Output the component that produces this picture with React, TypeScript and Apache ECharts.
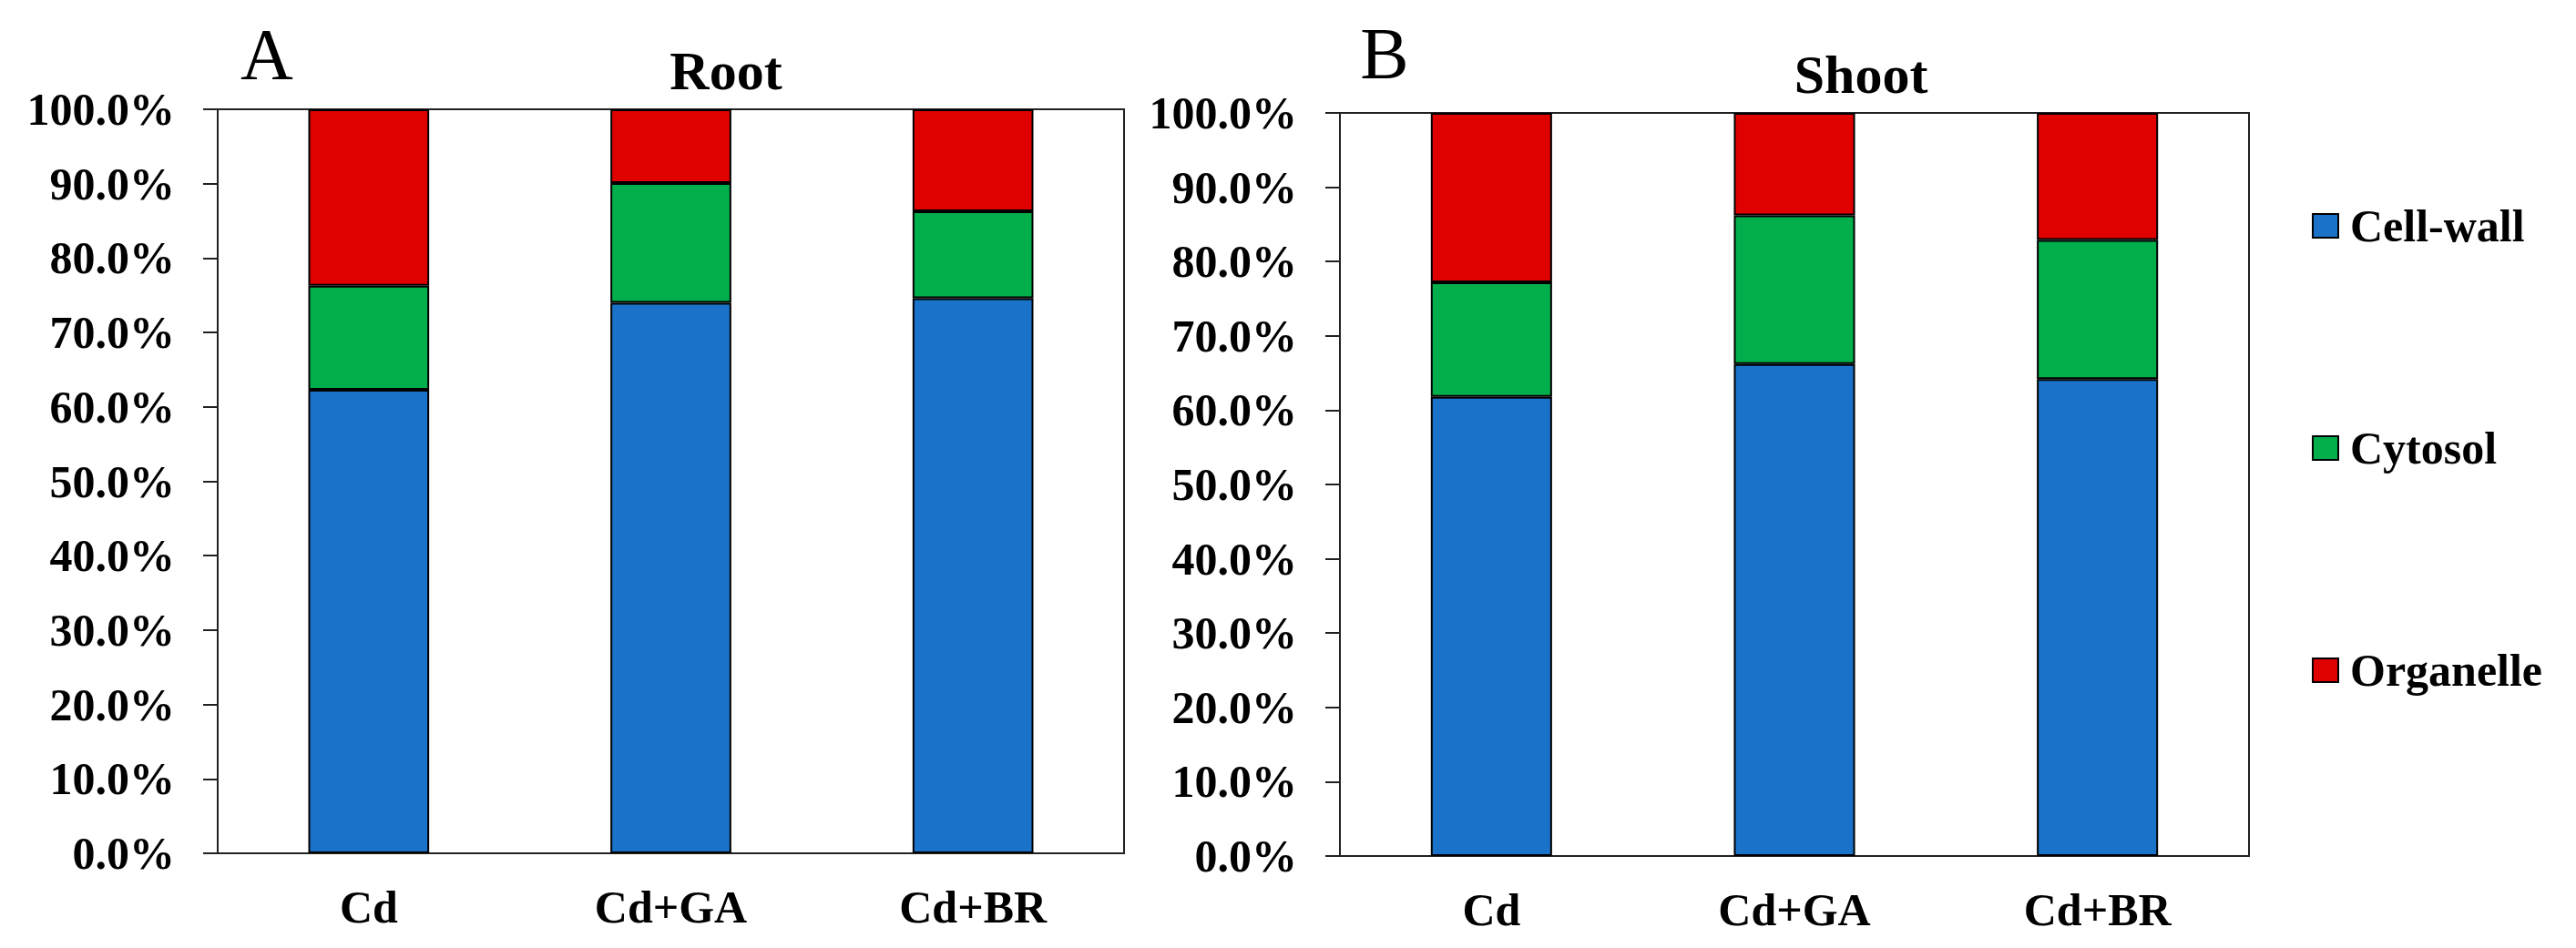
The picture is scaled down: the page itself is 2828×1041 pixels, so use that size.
import React, { useEffect, useRef } from "react";
import * as echarts from "echarts";

const categories = ["Cd", "Cd+GA", "Cd+BR"];
const seriesNames = ["Cell-wall", "Cytosol", "Organelle"];
const rootCellWall = [62.3, 74.0, 74.6];
const rootCytosol = [14.0, 16.1, 11.7];
const rootOrganelle = [23.7, 9.9, 13.7];
const shootCellWall = [61.8, 66.2, 64.2];
const shootCytosol = [15.4, 20.0, 18.7];
const shootOrganelle = [22.8, 13.8, 17.1];
const colors = ["#1A73C8", "#00AF4B", "#DF0000"];

const FONT = '"Liberation Serif", "Times New Roman", serif';

export default function App() {
  const ref = useRef<HTMLDivElement>(null);
  useEffect(() => {
    if (!ref.current) return;
    const chart = echarts.init(ref.current, null, { renderer: "svg" });
    const axisLineStyle = { color: "#222", width: 2 };
    const yAxisBase = (gridIndex: number) => ({
      type: "value",
      gridIndex,
      min: 0,
      max: 100,
      interval: 10,
      axisLine: { show: true, lineStyle: axisLineStyle },
      axisTick: { show: true, inside: false, length: 16, lineStyle: axisLineStyle },
      splitLine: { show: false },
      axisLabel: {
        margin: 47,
        color: "#000",
        fontFamily: FONT,
        fontWeight: "bold",
        fontSize: 50,
        formatter: (v: number) => v.toFixed(1) + "%",
      },
    });
    const xAxisBase = (gridIndex: number) => ({
      type: "category",
      gridIndex,
      data: categories,
      axisLine: { show: true, lineStyle: axisLineStyle },
      axisTick: { show: false },
      axisLabel: {
        margin: 34,
        color: "#000",
        fontFamily: FONT,
        fontWeight: "bold",
        fontSize: 50,
      },
    });
    const mk = (name: string, data: number[], idx: number, color: string) => ({
      name,
      type: "bar",
      stack: idx === 0 ? "A" : "B",
      xAxisIndex: idx,
      yAxisIndex: idx,
      barWidth: "40%",
      data,
      itemStyle: { color, borderColor: "#000", borderWidth: 2 },
    });
    chart.setOption({
      animation: false,
      backgroundColor: "#fff",
      grid: [
        { left: 239, top: 120, width: 995, height: 817, show: true, borderColor: "#222", borderWidth: 2, backgroundColor: "transparent" },
        { left: 1471, top: 124, width: 998, height: 816, show: true, borderColor: "#222", borderWidth: 2, backgroundColor: "transparent" },
      ],
      xAxis: [xAxisBase(0), xAxisBase(1)],
      yAxis: [yAxisBase(0), yAxisBase(1)],
      legend: {
        data: seriesNames,
        orient: "vertical",
        left: 2533,
        top: 218,
        itemWidth: 28,
        itemHeight: 26,
        itemGap: 194,
        icon: "rect",
        itemStyle: { borderColor: "#000", borderWidth: 2 },
        textStyle: {
          fontFamily: FONT,
          fontWeight: "bold",
          fontSize: 50,
          lineHeight: 50,
          color: "#000",
          padding: [0, 0, 0, 8],
        },
      },
      series: [
        mk(seriesNames[0], rootCellWall, 0, colors[0]),
        mk(seriesNames[1], rootCytosol, 0, colors[1]),
        mk(seriesNames[2], rootOrganelle, 0, colors[2]),
        mk(seriesNames[0], shootCellWall, 1, colors[0]),
        mk(seriesNames[1], shootCytosol, 1, colors[1]),
        mk(seriesNames[2], shootOrganelle, 1, colors[2]),
      ],
      graphic: [
        { type: "text", x: 293, y: 60, style: { text: "A", font: `normal 80px ${FONT}`, fill: "#000", textAlign: "center", textVerticalAlign: "middle" } },
        { type: "text", x: 797, y: 78, style: { text: "Root", font: `bold 60px ${FONT}`, fill: "#000", textAlign: "center", textVerticalAlign: "middle" } },
        { type: "text", x: 1520, y: 59, style: { text: "B", font: `normal 80px ${FONT}`, fill: "#000", textAlign: "center", textVerticalAlign: "middle" } },
        { type: "text", x: 2043, y: 82, style: { text: "Shoot", font: `bold 60px ${FONT}`, fill: "#000", textAlign: "center", textVerticalAlign: "middle" } },
      ],
    });
    return () => chart.dispose();
  }, []);
  return (
    <div
      ref={ref}
      style={{ position: "fixed", left: 0, top: 0, width: 2828, height: 1041, background: "#fff" }}
    />
  );
}
